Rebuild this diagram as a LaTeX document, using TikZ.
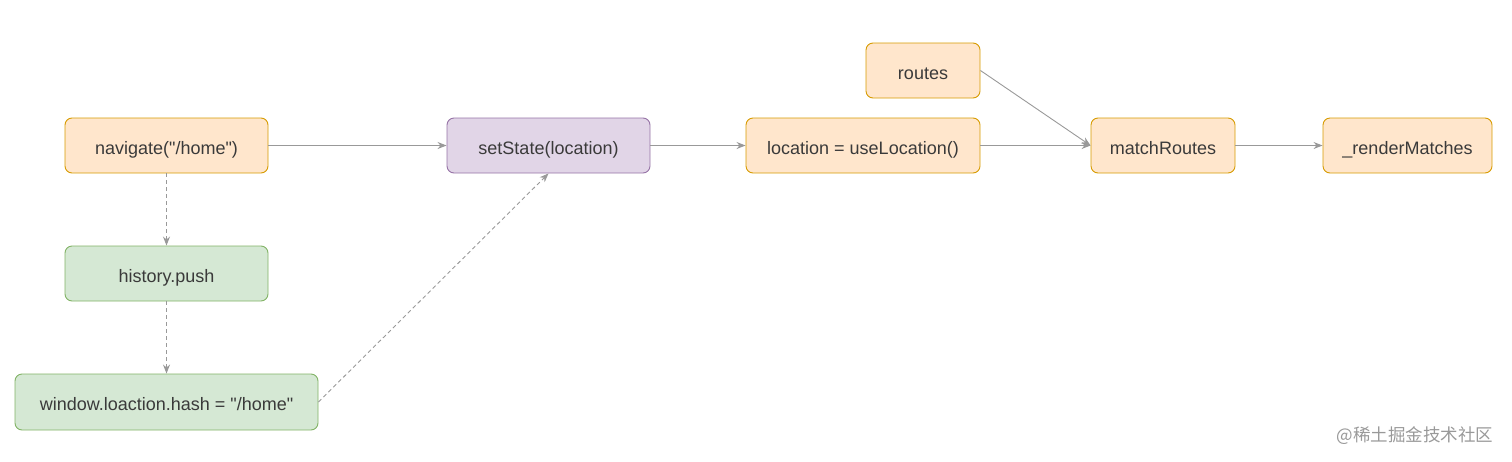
\documentclass[tikz,border=0pt]{standalone}
\usepackage{fontspec}
\setmainfont{Liberation Sans}[Ligatures=TeXOff]
\newfontfamily\cjk{Noto Sans CJK SC}
\usetikzlibrary{arrows.meta}
\definecolor{ofill}{HTML}{FFE6CC}
\definecolor{odraw}{HTML}{D79B00}
\definecolor{gfill}{HTML}{D5E8D4}
\definecolor{gdraw}{HTML}{82B366}
\definecolor{pfill}{HTML}{E1D5E7}
\definecolor{pdraw}{HTML}{9673A6}
\definecolor{txt}{HTML}{3A3A3A}
\definecolor{edge}{HTML}{999999}
\tikzset{
  box/.style={rectangle, rounded corners=7pt, line width=0.9pt, minimum height=55pt, inner sep=0pt, text=txt, text height=17pt, text depth=0pt, font=\fontsize{18}{20}\selectfont},
  obox/.style={box, fill=ofill, draw=odraw},
  gbox/.style={box, fill=gfill, draw=gdraw},
  pbox/.style={box, fill=pfill, draw=pdraw},
  conn/.style={draw=edge, line width=0.9pt, -{Stealth[length=9pt,width=7pt]}},
  dconn/.style={conn, dashed, dash pattern=on 4pt off 3pt},
}
\begin{document}
\begin{tikzpicture}[x=1pt,y=-1pt]
\useasboundingbox (0,0) rectangle (1512,461);
\node[obox, minimum width=203pt] (nav) at (166.5,145.5) {navigate("/home")};
\node[pbox, minimum width=203pt] (set) at (548.5,145.5) {setState(location)};
\node[obox, minimum width=234pt] (loc) at (863,145.5) {location = useLocation()};
\node[obox, minimum width=114pt] (routes) at (923,70.5) {routes};
\node[obox, minimum width=144pt] (match) at (1163,145.5) {matchRoutes};
\node[obox, minimum width=169pt] (render) at (1407.5,145.5) {\_renderMatches};
\node[gbox, minimum width=203pt] (hist) at (166.5,273.5) {history.push};
\node[gbox, minimum width=303pt, minimum height=56pt] (win) at (166.5,402) {window.loaction.hash = "/home"};
\node[text=edge, font=\cjk\fontsize{17.5}{19}\selectfont, anchor=east] (wm) at (1497,436) {@稀土掘金技术社区};
\draw[conn] (nav) -- (set);
\draw[conn] (set) -- (loc);
\draw[conn] (loc) -- (match);
\draw[conn] (routes.east) -- (match.west);
\draw[conn] (match) -- (render);
\draw[dconn] (nav) -- (hist);
\draw[dconn] (hist) -- (win);
\draw[dconn] (win.east) -- (set.south);
\end{tikzpicture}
\end{document}
